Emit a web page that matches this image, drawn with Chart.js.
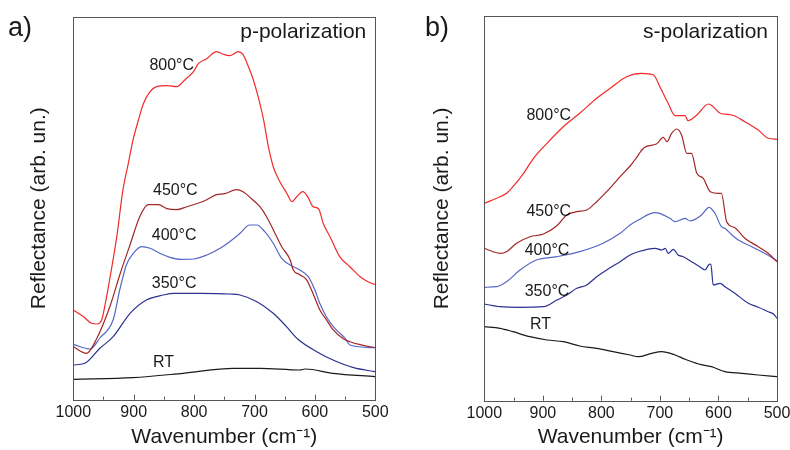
<!DOCTYPE html>
<html><head><meta charset="utf-8">
<script src="https://cdn.jsdelivr.net/npm/chart.js@4.4.1/dist/chart.umd.min.js"></script>
<style>
html,body{margin:0;padding:0;background:#fff;overflow:hidden;width:790px;height:450px}
#wa{position:absolute;left:0;top:0;width:395px;height:450px}
#wb{position:absolute;left:395px;top:0;width:395px;height:450px}
</style></head><body>
<div id="wa"><canvas id="ca"></canvas></div>
<div id="wb"><canvas id="cb"></canvas></div>
<script>
// ---------- data (wavenumber in cm-1, reflectance in arbitrary units) ----------
const xTicks = [1000, 900, 800, 700, 600, 500];
const minorTicks = [950, 850, 750, 650, 550];
const seriesNames = ['800°C', '450°C', '400°C', '350°C', 'RT'];

// panel a) p-polarization
const wnA_800 = [1000,983,970,961,953,948,939,928,918,909,901,892,884,873,862,845,829,815,801,793,779,763,754,741,727,719,710,702,694,685,677,669,658,647,638,630,620,611,603,594,586,575,559,542,525,512,500];
const refA_800 = [89.7,83,76.4,75.7,79.7,93,123,163,209,236,260,280,296,308,313,314,313,320,328,336,341,348,346,344,348,345,333,320,303,280,253,233,218,207,198,203,208,202,193,191,176,163,143,133,123,118,115];
const wnA_450 = [1000,978,961,939,923,906,890,876,859,845,829,812,796,779,763,749,730,719,705,691,680,669,655,641,636,625,614,603,592,581,570,553,542,525,500];
const refA_450 = [53,46.4,61.4,94,125,155,183,195,195,191,190,193,196,200,205,206,210,208,201,193,183,170,153,140,130,125,120,106,90,80,70,61,58,55,52];
const wnA_400 = [1000,972,956,934,923,912,901,887,873,857,840,823,801,779,757,741,724,708,696,683,669,655,641,625,611,600,592,581,567,550,542,500];
const refA_400 = [55.4,50.7,61.7,80,110,135,146,153,151.4,146.4,142.4,140.4,140.7,144.7,151.4,158,166.4,174.7,174.7,168,156.4,141.4,134.7,129.7,123,109.7,96.4,83,71.4,61.4,54.7,52];
const wnA_350 = [1000,981,956,934,906,879,851,834,790,741,724,696,669,647,628,597,570,536,500];
const refA_350 = [34.7,36.4,51.4,63,86.4,99.7,104.7,106.4,106.4,105.7,104.7,98,86.4,73,60.4,48,39.7,32,28];
const wnA_RT = [1000,901,818,735,691,625,616,570,500];
const refA_RT = [20.4,22,26.4,31.4,31.4,29.7,30.7,26.4,23];
const labelWnA = [874,868,870,870,868];
const labelRefA = [330,205,160,112,33];

// panel b) s-polarization
const wnB_800 = [1000,979,962,951,933,916,893,865,837,808,785,757,731,711,700,686,674,657,652,637,617,609,597,577,555,532,515,500];
const refB_800 = [197.4,202.4,207.4,214,227.4,242.4,257.4,274,287.4,302.4,312.4,324,327.4,325.7,314,297.4,285,285,280,285.7,296.7,294,287.4,285.7,279,270.7,262.4,261.4];
const wnB_450 = [1000,985,973,962,945,922,899,876,859,842,825,808,791,768,751,743,726,706,694,688,680,671,663,654,646,637,626,614,600,595,586,572,555,532,515,500];
const refB_450 = [152.4,149,147.4,149,157.4,164,166.7,175,185.7,189,190.7,199,209,224,234.7,240.7,253.4,256.7,263.4,259,267.4,271.7,265.7,247.4,247.4,227.4,222.4,209,207.4,207.4,179,173,162.4,154,147.4,139];
const wnB_400 = [1000,979,962,939,911,876,837,797,768,751,737,708,683,674,657,649,629,616,606,595,589,577,566,543,521,500];
const refB_400 = [113.4,114,119,130.7,140.7,144,149,157.4,167.4,175.7,180.7,188,182.4,179,182.4,179.7,185.7,193.4,187.4,174,172.4,165.7,160.7,154,147.4,140];
const wnB_350 = [1000,973,939,899,876,859,842,825,808,791,768,751,737,708,697,691,686,677,669,660,646,632,623,617,613,609,597,589,572,549,532,515,506,500];
const refB_350 = [96.7,94,93.4,94,100.7,105.7,112.4,115.7,124,130.7,139,145.7,149,152.4,150.7,152.4,147.4,151.4,145.7,144,139,134,130.7,135.7,136.7,115.7,117.4,114,107.4,97.4,93.4,89,86.7,82.4];
const wnB_RT = [1000,973,951,922,893,865,837,808,780,751,737,714,697,674,657,634,612,589,560,532,500];
const refB_RT = [74,72.4,69,64,60.7,59,54.7,52.4,49,45.7,44,47.4,49,45.7,41.4,36.7,34,29,27.4,25.7,24];
const labelWnB = [928,928,931,931,922];
const labelRefB = [281,185,146,105,72];

// ---------- styling ----------
const FONT = "'Liberation Sans', Arial, sans-serif";
const TXT = '#1a1a1a';
const colors = ['#f22a2a', '#a32626', '#5566c4', '#2c3190', '#1a1a1a'];

function framePlugin(cfg) {
  return {
    id: 'frame_' + cfg.id,
    afterDraw(chart) {
      const ctx = chart.ctx, a = chart.chartArea, xs = chart.scales.x, ys = chart.scales.y;
      ctx.save();
      ctx.strokeStyle = '#555';
      ctx.lineWidth = 1;
      ctx.strokeRect(Math.round(a.left) + 0.5, Math.round(a.top) + 0.5, Math.round(a.right - a.left), Math.round(a.bottom - a.top));
      ctx.beginPath();
      xTicks.forEach(v => { const p = Math.round(xs.getPixelForValue(v)) + 0.5; ctx.moveTo(p, a.bottom); ctx.lineTo(p, a.bottom - 5); });
      minorTicks.forEach(v => { const p = Math.round(xs.getPixelForValue(v)) + 0.5; ctx.moveTo(p, a.bottom); ctx.lineTo(p, a.bottom - 3); });
      ctx.stroke();
      // panel letter
      ctx.fillStyle = TXT;
      ctx.textBaseline = 'alphabetic';
      ctx.font = '27px ' + FONT;
      ctx.textAlign = 'left';
      ctx.fillText(cfg.letter, cfg.letterX, 36);
      // polarization
      ctx.font = '21px ' + FONT;
      ctx.textAlign = 'right';
      ctx.fillText(cfg.pol, xs.getPixelForValue(500) - 9, 38);
      // curve labels
      ctx.font = '16px ' + FONT;
      ctx.textAlign = 'left';
      seriesNames.forEach((n, i) => {
        ctx.fillText(n, xs.getPixelForValue(cfg.labelWn[i]), ys.getPixelForValue(cfg.labelRef[i]));
      });
      ctx.restore();
    }
  };
}

function makeChart(canvasId, cfg) {
  const datasets = cfg.series.map((s, k) => ({
    label: seriesNames[k],
    data: s[0].map((x, i) => ({x: x, y: s[1][i]})),
    borderColor: colors[k],
    borderWidth: 1.2,
    pointRadius: 0,
    fill: false,
    cubicInterpolationMode: 'monotone'
  }));
  return new Chart(document.getElementById(canvasId), {
    type: 'line',
    data: {datasets},
    options: {
      responsive: true, maintainAspectRatio: false, animation: false, events: [],
      layout: {padding: {left: 0, right: cfg.padRight, top: cfg.padTop, bottom: 0}},
      plugins: {legend: {display: false}, tooltip: {enabled: false}},
      scales: {
        x: {
          type: 'linear', reverse: true, min: 500, max: 1000,
          afterBuildTicks: sc => { sc.ticks = xTicks.map(v => ({value: v})); },
          afterFit: sc => { sc.height = cfg.xAxisH; sc.paddingLeft = 0; sc.paddingRight = 0; },
          grid: {display: false, drawTicks: false}, border: {display: false},
          ticks: {padding: 3, color: TXT, font: {family: FONT, size: 16}, maxRotation: 0, autoSkip: false, callback: v => String(v)},
          title: {display: true, text: 'Wavenumber (cm⁻¹)', color: TXT, font: {family: FONT, size: 21, lineHeight: 1}, padding: {top: 0, bottom: 2}}
        },
        y: {
          min: 0, max: cfg.yMax,
          afterFit: sc => { sc.width = cfg.yAxisW; },
          grid: {display: false, drawTicks: false}, border: {display: false},
          ticks: {display: false},
          title: {display: true, text: 'Reflectance (arb. un.)', color: TXT, font: {family: FONT, size: 21, lineHeight: 1}, padding: {top: cfg.yTitlePad, bottom: 0}}
        }
      }
    },
    plugins: [framePlugin(cfg)]
  });
}

makeChart('ca', {
  id: 'a', letter: 'a)', letterX: 8, pol: 'p-polarization',
  series: [[wnA_800, refA_800], [wnA_450, refA_450], [wnA_400, refA_400], [wnA_350, refA_350], [wnA_RT, refA_RT]],
  labelWn: labelWnA, labelRef: labelRefA,
  padRight: 19.7, padTop: 16.7, xAxisH: 50.3, yAxisW: 73.3, yMax: 383, yTitlePad: 28.5
});
makeChart('cb', {
  id: 'b', letter: 'b)', letterX: 30, pol: 's-polarization',
  series: [[wnB_800, refB_800], [wnB_450, refB_450], [wnB_400, refB_400], [wnB_350, refB_350], [wnB_RT, refB_RT]],
  labelWn: labelWnB, labelRef: labelRefB,
  padRight: 13, padTop: 16, xAxisH: 49.3, yAxisW: 89.3, yMax: 384.7, yTitlePad: 36.5
});
</script>
</body></html>
